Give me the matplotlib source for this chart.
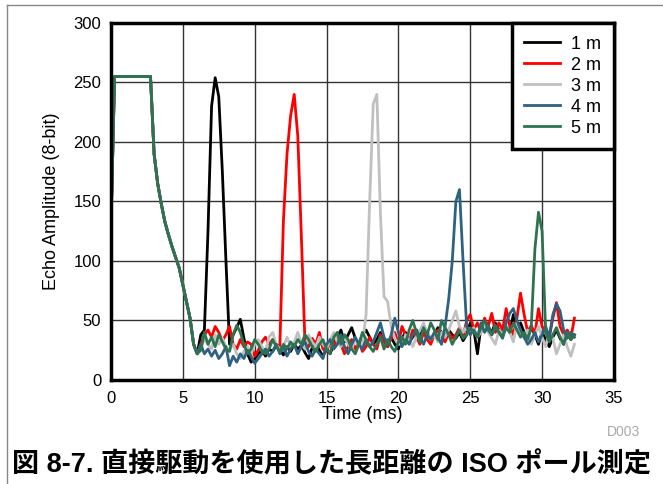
import numpy as np
import matplotlib
matplotlib.use("Agg")
import matplotlib.pyplot as plt
from matplotlib.lines import Line2D

plt.rcParams["font.family"] = ["Liberation Sans", "Noto Sans CJK JP", "DejaVu Sans"]

dt = 0.25  # ms per sample

# shared transmit ring-down, 0 .. 6.0 ms
ring = [130, 255, 255, 255, 255, 255, 255, 255, 255, 255, 255, 255,
        190, 165, 148, 133, 122, 112, 103, 94, 80, 66, 52, 30, 22]

# echoes after 6.0 ms, one row per ms (x.25, x.5, x.75, x+1)
m1 = [38, 42, 125, 230,  254, 238, 175, 100,  30, 38, 44, 51,  35, 22, 15, 18,
      22, 25, 20, 26,  24, 29, 25, 21,  28, 24, 30, 26,  29, 23, 18, 27,
      32, 25, 20, 26,  22, 30, 36, 42,  32, 38, 44, 35,  30, 38, 42, 36,
      30, 34, 40, 33,  28, 36, 30, 26,  35, 40, 32, 36,  42, 38, 45, 40,
      34, 38, 44, 40,  36, 42, 38, 35,  40, 33, 38, 48,  42, 22, 45, 50,
      44, 40, 48, 42,  38, 45, 40, 55,  42, 48, 40, 36,  44, 38, 30, 40,
      34, 28, 36, 42,  35, 30, 40, 34,  38]
m2 = [30, 38, 42, 36,  45, 40, 33, 38,  45, 30, 26, 34,  28, 32, 30, 20,
      25, 32, 36, 30,  34, 30, 28, 134,  190, 222, 240, 205,  120, 31, 28, 35,
      30, 40, 26, 24,  32, 28, 36, 30,  22, 28, 34, 26,  32, 24, 28, 36,
      30, 26, 38, 32,  28, 35, 40, 30,  45, 38, 32, 42,  36, 30, 40, 34,
      30, 38, 42, 36,  32, 40, 35, 38,  44, 36, 50, 55,  42, 48, 40, 52,
      45, 56, 40, 48,  42, 60, 45, 38,  52, 73, 55, 40,  46, 38, 60, 45,
      40, 36, 52, 65,  45, 38, 42, 35,  52]
m3 = [28, 34, 30, 26,  38, 30, 35, 28,  25, 30, 22, 18,  24, 28, 22, 30,
      34, 28, 24, 36,  40, 30, 26, 28,  36, 28, 32, 40,  30, 26, 38, 32,
      28, 36, 30, 26,  34, 40, 32, 28,  36, 30, 26, 34,  28, 30, 55, 150,
      232, 240, 140, 70,  66, 45, 35, 30,  30, 38, 34, 28,  36, 42, 48, 40,
      34, 38, 32, 40,  36, 42, 50, 58,  45, 40, 45, 38,  44, 36, 40, 48,
      40, 35, 30, 42,  38, 45, 40, 32,  48, 40, 35, 42,  30, 38, 45, 36,
      28, 40, 35, 22,  30, 38, 28, 20,  30]
m4 = [30, 22, 26, 20,  25, 18, 22, 28,  12, 20, 15, 22,  18, 25, 20, 14,
      18, 22, 26, 20,  24, 30, 22, 28,  20, 26, 30, 22,  28, 32, 24, 20,
      26, 22, 18, 30,  34, 26, 30, 38,  28, 22, 30, 36,  30, 26, 34, 28,
      32, 40, 48, 36,  30, 38, 52, 40,  28, 34, 30, 38,  42, 36, 30, 38,
      34, 40, 36, 30,  45, 68, 100, 150,  160, 100, 45, 38,  42, 36, 48, 40,
      46, 38, 44, 40,  35, 48, 56, 60,  50, 42, 36, 30,  34, 40, 32, 38,
      45, 36, 55, 64,  58, 42, 35, 40,  36]
m5 = [25, 40, 30, 36,  28, 38, 32, 26,  24, 38, 46, 40,  30, 22, 26, 34,
      30, 24, 22, 26,  34, 28, 24, 30,  26, 32, 28, 34,  30, 38, 34, 28,
      24, 30, 34, 26,  22, 36, 40, 30,  38, 34, 26, 22,  30, 40, 34, 28,
      24, 30, 36, 26,  34, 28, 24, 32,  36, 30, 42, 50,  40, 32, 44, 38,
      48, 42, 34, 50,  44, 38, 30, 36,  42, 35, 38, 44,  40, 36, 44, 50,
      42, 38, 46, 40,  36, 44, 40, 48,  42, 36, 40, 34,  45, 110, 141, 125,
      40, 32, 38, 44,  36, 30, 40, 34,  38]

labels = ["1 m", "2 m", "3 m", "4 m", "5 m"]
series = [m1, m2, m3, m4, m5]
colors = ["#000000", "#ff0000", "#c0c0c0", "#2f6180", "#2d7350"]

fig = plt.figure(figsize=(6.63, 4.84), dpi=100)
ax = fig.add_axes([0.1674, 0.2149, 0.7586, 0.7376])

for lab, s, c in zip(labels, series, colors):
    y = np.array(ring + s, dtype=float)
    t = dt * np.arange(len(y))
    ax.plot(t, y, color=c, lw=2.0, label=lab)

ax.set_xlim(0, 35)
ax.set_ylim(0, 300)
ax.set_xticks(range(0, 36, 5))
ax.set_yticks(range(0, 301, 50))
ax.grid(True, color="#333333", lw=1.0)
ax.set_axisbelow(True)
ax.tick_params(length=0, labelsize=12)
ax.tick_params(axis="x", pad=8)
ax.tick_params(axis="y", pad=7)
for sp in ax.spines.values():
    sp.set_linewidth(2.5)
ax.set_xlabel("Time (ms)", fontsize=13, labelpad=0)
ax.set_ylabel("Echo Amplitude (8-bit)", fontsize=13, labelpad=10)

leg = ax.legend(loc="upper right", borderaxespad=0, fontsize=13, fancybox=False,
                framealpha=1, handlelength=2.0, handletextpad=0.6,
                labelspacing=0.22, borderpad=0.7)
leg.get_frame().set_edgecolor("black")
leg.get_frame().set_linewidth(2.5)

fig.text(0.966, 1 - 432 / 484, "D003", fontsize=10, color="#aaaaaa",
         ha="right", va="center")
fig.text(0.5, 1 - 465 / 484, "図 8-7. 直接駆動を使用した長距離の ISO ポール測定",
         fontsize=19.5, fontweight="bold", ha="center", va="center")

fig.add_artist(Line2D([7 / 663, 7 / 663], [0, 1 - 5 / 484], color="#888888", lw=1))
fig.add_artist(Line2D([7 / 663, 1], [1 - 5 / 484, 1 - 5 / 484], color="#888888", lw=1))

fig.savefig("out.png", dpi=100)
